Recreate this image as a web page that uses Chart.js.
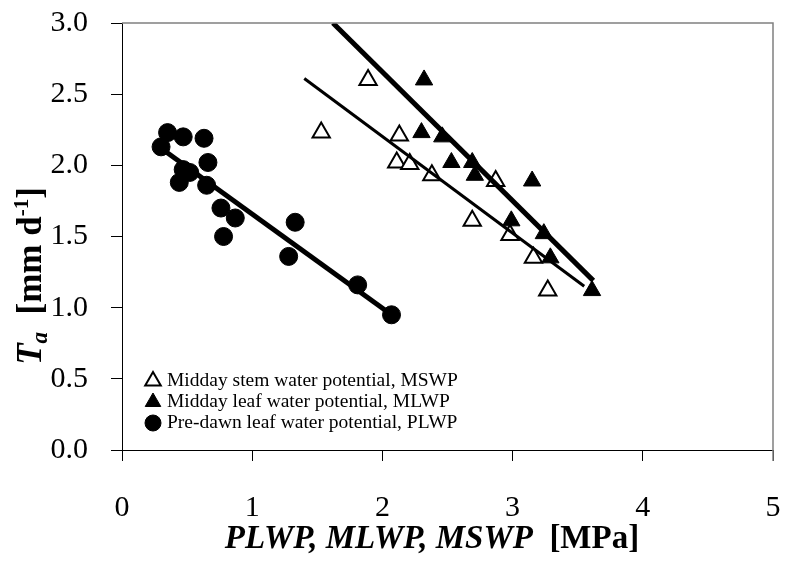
<!DOCTYPE html>
<html>
<head>
<meta charset="utf-8">
<script src="https://cdn.jsdelivr.net/npm/chart.js@4"></script>
<style>
  html, body { margin: 0; padding: 0; background: #fff; }
  #wrap { width: 785px; height: 564px; }
</style>
</head>
<body>
<div id="wrap"><canvas id="chartCanvas"></canvas></div>
<script>
// Midday stem water potential (MSWP) [MPa] vs Ta [mm/d]
const mswpX = [1.89, 1.53, 2.13, 2.11, 2.21, 2.38, 2.87, 2.69, 2.98, 3.16, 3.27];
const mswpY = [2.60, 2.23, 2.21, 2.02, 2.01, 1.93, 1.89, 1.61, 1.51, 1.35, 1.12];

// Midday leaf water potential (MLWP)
const mlwpX = [2.32, 2.30, 2.46, 2.53, 2.69, 2.71, 3.15, 2.99, 3.24, 3.29, 3.61];
const mlwpY = [2.60, 2.23, 2.20, 2.02, 2.02, 1.93, 1.89, 1.61, 1.52, 1.35, 1.12];

// Pre-dawn leaf water potential (PLWP)
const plwpX = [0.30, 0.35, 0.47, 0.63, 0.66, 0.47, 0.52, 0.44, 0.65, 0.76, 0.87, 0.78, 1.33, 1.28, 1.81, 2.07];
const plwpY = [2.13, 2.23, 2.20, 2.19, 2.02, 1.97, 1.95, 1.88, 1.86, 1.70, 1.63, 1.50, 1.60, 1.36, 1.16, 0.95];

// linear fits (end points)
const mswpFitX = [1.40, 3.55];
const mswpFitY = [2.61, 1.15];
const mlwpFitX = [1.62, 3.62];
const mlwpFitY = [3.00, 1.19];
const plwpFitX = [0.30, 2.07];
const plwpFitY = [2.12, 0.95];

const xTicks = [0, 1, 2, 3, 4, 5];
const yTicks = [0, 0.5, 1.0, 1.5, 2.0, 2.5, 3.0];

const SERIF = '"Liberation Serif", "Times New Roman", serif';

function pts(xs, ys) {
    return xs.map((x, i) => ({ x: x, y: ys[i] }));
}

// draw a marker the same way chart.js does (triangle inscribed in circle)
function drawMarker(ctx, style, r, x, y, fill, lw) {
    ctx.beginPath();
    if (style === 'triangle') {
        let rad = 0;
        ctx.moveTo(x + Math.sin(rad) * r, y - Math.cos(rad) * r);
        rad += 2 * Math.PI / 3;
        ctx.lineTo(x + Math.sin(rad) * r, y - Math.cos(rad) * r);
        rad += 2 * Math.PI / 3;
        ctx.lineTo(x + Math.sin(rad) * r, y - Math.cos(rad) * r);
        ctx.closePath();
    } else {
        ctx.arc(x, y, r, 0, Math.PI * 2);
    }
    ctx.fillStyle = fill;
    ctx.fill();
    ctx.lineWidth = lw;
    ctx.strokeStyle = '#000';
    ctx.stroke();
}

// legend inside the plot, bottom left
const insideLegend = {
    id: 'insideLegend',
    afterDraw(chart) {
        const ctx = chart.ctx;
        const items = chart.data.datasets.filter(d => d.inLegend);
        ctx.save();
        ctx.font = '19.5px ' + SERIF;
        ctx.textBaseline = 'middle';
        ctx.textAlign = 'left';
        items.forEach((d, i) => {
            const y = 380 + i * 21;
            drawMarker(ctx, d.pointStyle, d.pointStyle === 'triangle' ? 9 : 8, 153, y + 1,
                d.backgroundColor, d.borderWidth);
            ctx.fillStyle = '#000';
            ctx.fillText(d.label, 167, y + 1);
        });
        ctx.restore();
    }
};

// frame on top/right and axis titles with mixed styles, sub- and superscripts
const axisTitles = {
    id: 'axisTitles',
    afterDraw(chart) {
        const ctx = chart.ctx;
        const area = chart.chartArea;
        ctx.save();
        ctx.fillStyle = '#000';
        ctx.textBaseline = 'alphabetic';
        ctx.textAlign = 'left';

        ctx.strokeStyle = '#808080';
        ctx.lineWidth = 1.5;
        ctx.beginPath();
        ctx.moveTo(area.left, area.top);
        ctx.lineTo(area.right, area.top);
        ctx.lineTo(area.right, area.bottom + 11);
        ctx.stroke();

        function drawParts(parts, x, y) {
            let cx = x;
            parts.forEach(p => {
                ctx.font = p.font;
                ctx.fillText(p.text, cx, y + (p.dy || 0));
                cx += ctx.measureText(p.text).width;
            });
        }
        function widthOf(parts) {
            let w = 0;
            parts.forEach(p => { ctx.font = p.font; w += ctx.measureText(p.text).width; });
            return w;
        }

        const xParts = [
            { text: 'PLWP, MLWP, MSWP', font: 'italic bold 33px ' + SERIF },
            { text: '  [MPa]', font: 'bold 33px ' + SERIF }
        ];
        drawParts(xParts, 432 - widthOf(xParts) / 2, 548);

        const yParts = [
            { text: 'T', font: 'italic bold 35px ' + SERIF },
            { text: 'a', font: 'italic bold 23px ' + SERIF, dy: 6 },
            { text: '  [mm d', font: 'bold 35px ' + SERIF },
            { text: '-1', font: 'bold 21px ' + SERIF, dy: -13 },
            { text: ']', font: 'bold 35px ' + SERIF }
        ];
        ctx.translate(41, 276);
        ctx.rotate(-Math.PI / 2);
        drawParts(yParts, -widthOf(yParts) / 2, 0);
        ctx.restore();
    }
};

const chartCanvas = document.getElementById('chartCanvas');

new Chart(chartCanvas, {
    type: 'scatter',
    data: {
        datasets: [
            {
                label: 'Midday stem water potential, MSWP',
                inLegend: true,
                data: pts(mswpX, mswpY),
                pointStyle: 'triangle',
                pointRadius: 10,
                backgroundColor: '#ffffff',
                borderColor: '#000000',
                borderWidth: 2,
                order: 2
            },
            {
                label: 'Midday leaf water potential, MLWP',
                inLegend: true,
                data: pts(mlwpX, mlwpY),
                pointStyle: 'triangle',
                pointRadius: 10,
                backgroundColor: '#000000',
                borderColor: '#000000',
                borderWidth: 1,
                order: 2
            },
            {
                label: 'Pre-dawn leaf water potential, PLWP',
                inLegend: true,
                data: pts(plwpX, plwpY),
                pointStyle: 'circle',
                pointRadius: 9,
                backgroundColor: '#000000',
                borderColor: '#000000',
                borderWidth: 1,
                order: 2
            },
            {
                label: 'MSWP fit',
                data: pts(mswpFitX, mswpFitY),
                showLine: true,
                pointRadius: 0,
                borderColor: '#000000',
                borderWidth: 3,
                order: 1
            },
            {
                label: 'MLWP fit',
                data: pts(mlwpFitX, mlwpFitY),
                showLine: true,
                pointRadius: 0,
                borderColor: '#000000',
                borderWidth: 5,
                order: 1
            },
            {
                label: 'PLWP fit',
                data: pts(plwpFitX, plwpFitY),
                showLine: true,
                pointRadius: 0,
                borderColor: '#000000',
                borderWidth: 5,
                order: 1
            }
        ]
    },
    options: {
        responsive: true,
        maintainAspectRatio: false,
        animation: false,
        layout: { padding: { top: 23, right: 12, left: 0, bottom: 0 } },
        plugins: {
            legend: { display: false },
            tooltip: { enabled: false },
            title: { display: false }
        },
        scales: {
            x: {
                type: 'linear',
                min: 0,
                max: 5,
                afterFit: function (scale) {
                    scale.height = 114;
                    scale.paddingLeft = 0;
                    scale.paddingRight = 0;
                },
                afterBuildTicks: function (scale) { scale.ticks = xTicks.map(v => ({ value: v })); },
                ticks: {
                    color: '#000',
                    padding: 29,
                    font: { family: SERIF, size: 30 },
                    callback: v => String(v)
                },
                grid: { drawOnChartArea: false, drawTicks: true, tickLength: 11, color: '#000' },
                border: { color: '#000', width: 1 }
            },
            y: {
                min: 0,
                max: 3,
                afterFit: function (scale) {
                    scale.width = 122;
                    scale.paddingTop = 0;
                    scale.paddingBottom = 0;
                },
                afterBuildTicks: function (scale) { scale.ticks = yTicks.map(v => ({ value: v })); },
                ticks: {
                    color: '#000',
                    padding: 23,
                    font: { family: SERIF, size: 30 },
                    callback: v => v.toFixed(1)
                },
                grid: { drawOnChartArea: false, drawTicks: true, tickLength: 11, color: '#000' },
                border: { color: '#000', width: 1 }
            }
        }
    },
    plugins: [insideLegend, axisTitles]
});
</script>
</body>
</html>
